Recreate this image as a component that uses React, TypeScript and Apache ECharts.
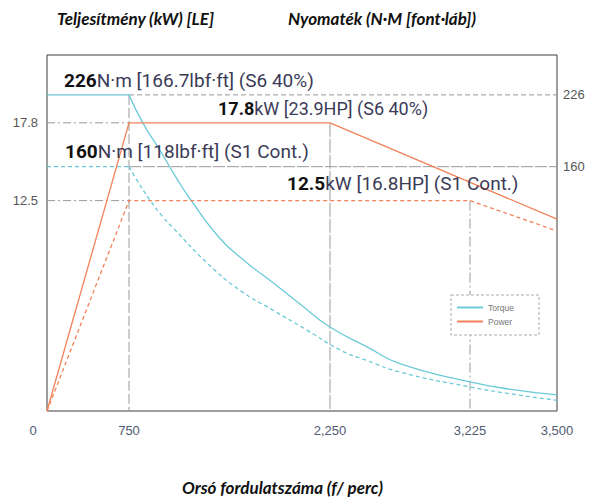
import React, { useEffect, useRef } from "react";
import * as echarts from "echarts";

// ---- axis scale definitions (schematic, piecewise) ----
const RPM_STOPS = [0, 750, 2250, 3225, 3500];
const X_TICK_LABELS = ["0", "750", "2,250", "3,225", "3,500"];
const X_STOP_POS = [0, 0.1608, 0.5549, 0.8294, 1];

const KW_STOPS = [0, 12.5, 17.8];
const KW_STOP_POS = [0, 0.591, 0.8095];
const KW_TICKS = [12.5, 17.8];

const NM_STOPS = [0, 160, 226];
const NM_STOP_POS = [0, 0.6863, 0.888];
const NM_TICKS = [160, 226];

// ---- series data ----
const POWER_S6_RPM = [0, 750, 2250, 3500];
const POWER_S6_KW = [0, 17.8, 17.8, 11.4];
const POWER_S1_RPM = [0, 750, 3225, 3500];
const POWER_S1_KW = [0, 12.5, 12.5, 10.7];

const TORQUE_S6_RPM = [0, 750, 854, 981, 1108, 1205, 1429, 1631, 1825, 2026, 2250, 2508, 2737, 3225, 3361, 3500];
const TORQUE_S6_NM = [226, 226, 200, 175, 152, 139, 113, 97, 84, 70, 55, 42, 31, 19, 14, 10.5];
const TORQUE_S1_RPM = [0, 750, 810, 907, 1004, 1078, 1332, 1578, 1825, 2078, 2320, 2508, 2737, 3225, 3361, 3500];
const TORQUE_S1_NM = [160, 160, 151, 138, 127, 120, 97, 79, 66, 53, 40, 33, 25.5, 15.7, 11, 7];

const CYAN = "#6ccad8";
const ORANGE = "#f2825a";
const GRID_GRAY = "#9a9a9a";
const TEXT_DARK = "#3b3b58";

function interp(v: number, xs: number[], ys: number[]): number {
  let i = 0;
  while (i < xs.length - 2 && v > xs[i + 1]) i++;
  const t = (v - xs[i]) / (xs[i + 1] - xs[i]);
  return ys[i] + t * (ys[i + 1] - ys[i]);
}
const xp = (rpm: number) => interp(rpm, RPM_STOPS, X_STOP_POS);
const kwp = (kw: number) => interp(kw, KW_STOPS, KW_STOP_POS);
const nmp = (nm: number) => interp(nm, NM_STOPS, NM_STOP_POS);

function nearestIdx(v: number, arr: number[]) {
  let best = 0;
  for (let i = 1; i < arr.length; i++) if (Math.abs(arr[i] - v) < Math.abs(arr[best] - v)) best = i;
  return best;
}

function refLine(points: number[][], yAxisIndex: number, dash: number[]) {
  return {
    type: "line",
    yAxisIndex,
    data: points,
    symbol: "none",
    silent: true,
    z: 1,
    lineStyle: { color: GRID_GRAY, width: 1, type: dash },
  };
}

function curve(name: string, color: string, yAxisIndex: number, pts: number[][], dashed: boolean, smooth: number) {
  return {
    name,
    type: "line",
    yAxisIndex,
    color,
    symbol: "none",
    z: 3,
    smooth,
    lineStyle: { color, width: 1.3, type: dashed ? [4, 3] : "solid" },
    data: pts,
  };
}

export default function App() {
  const ref = useRef<HTMLDivElement>(null);
  useEffect(() => {
    document.body.style.margin = "0";
    if (!ref.current) return;
    const chart = echarts.init(ref.current, undefined, { renderer: "svg" });

    const annFont = "Roboto";
    const ann = (x: number, y: number, bold: string, rest: string, size = 19) => ({
      type: "text",
      left: x,
      top: y,
      z: 5,
      style: {
        text: `{b|${bold}}{n|${rest}}`,
        rich: {
          b: { fontFamily: annFont, fontSize: size, fontWeight: "bold", fill: "#111", color: "#111" },
          n: { fontFamily: annFont, fontSize: size, fill: TEXT_DARK, color: TEXT_DARK },
        },
      },
    });

    const titleStyle = (text: string) => ({
      text,
      fontFamily: "Lato",
      fontSize: 17,
      fontWeight: "bold",
      fontStyle: "italic",
      fill: "#111",
    });

    const tS6 = TORQUE_S6_RPM.map((r, i) => [xp(r), nmp(TORQUE_S6_NM[i])]);
    const tS1 = TORQUE_S1_RPM.map((r, i) => [xp(r), nmp(TORQUE_S1_NM[i])]);

    const option: any = {
      animation: false,
      grid: { left: 47, top: 55, right: 33, bottom: 91, show: true, borderColor: "#3c3c3c", borderWidth: 1 },
      xAxis: {
        type: "value",
        min: 0,
        max: 1,
        axisLine: { show: false },
        axisTick: { show: false },
        splitLine: { show: false },
        axisLabel: {
          customValues: X_STOP_POS,
          margin: 13,
          color: "#4f5a73",
          fontSize: 13,
          fontFamily: "Liberation Sans",
          formatter: (v: number) => {
            const i = nearestIdx(v, X_STOP_POS);
            return i === 0 ? "{z|0}" : X_TICK_LABELS[i];
          },
          rich: {
            z: { padding: [0, 28, 0, 0], color: "#4f5a73", fontSize: 13, fontFamily: "Liberation Sans" },
          },
        },
      },
      yAxis: [
        {
          type: "value",
          min: 0,
          max: 1,
          position: "left",
          axisLine: { show: false },
          axisTick: { show: false },
          splitLine: { show: false },
          axisLabel: {
            customValues: KW_TICKS.map(kwp),
            margin: 9,
            color: "#555",
            fontSize: 13,
            fontFamily: "Liberation Sans",
            padding: [0, 0, 7, 0],
            formatter: (v: number) => String(KW_TICKS[nearestIdx(v, KW_TICKS.map(kwp))]),
          },
        },
        {
          type: "value",
          min: 0,
          max: 1,
          position: "right",
          axisLine: { show: false },
          axisTick: { show: false },
          splitLine: { show: false },
          axisLabel: {
            customValues: NM_TICKS.map(nmp),
            margin: 6,
            color: "#555",
            fontSize: 13,
            fontFamily: "Liberation Sans",
            padding: [0, 0, 7, 0],
            formatter: (v: number) => String(NM_TICKS[nearestIdx(v, NM_TICKS.map(nmp))]),
          },
        },
      ],
      legend: {
        data: ["Torque", "Power"],
        orient: "vertical",
        left: 457,
        top: 303,
        icon: "rect",
        itemWidth: 26,
        itemHeight: 2,
        itemGap: 5,
        padding: 0,
        z: 6,
        textStyle: { fontSize: 8.5, color: "#777", fontFamily: "Liberation Sans" },
      },
      series: [
        // reference / drop lines
        refLine([[xp(0), kwp(17.8)], [xp(750), kwp(17.8)]], 0, [8, 3, 2, 3]),
        refLine([[xp(0), kwp(12.5)], [xp(750), kwp(12.5)]], 0, [8, 3, 2, 3]),
        refLine([[xp(750), nmp(226)], [xp(3500), nmp(226)]], 1, [5, 3]),
        refLine([[xp(750), nmp(160)], [xp(3500), nmp(160)]], 1, [12, 2]),
        refLine([[xp(750), nmp(226)], [xp(750), nmp(0)]], 1, [10, 3]),
        refLine([[xp(2250), kwp(17.8)], [xp(2250), kwp(0)]], 0, [14, 2]),
        refLine([[xp(3225), kwp(12.5)], [xp(3225), kwp(0)]], 0, [10, 3, 2, 3]),
        // torque: flat part + smooth falling part
        curve("Torque", CYAN, 1, tS6.slice(0, 2), false, 0),
        curve("Torque", CYAN, 1, tS6.slice(1), false, 0.5),
        curve("Torque S1", CYAN, 1, tS1.slice(0, 2), true, 0),
        curve("Torque S1", CYAN, 1, tS1.slice(1), true, 0.5),
        curve("Power", ORANGE, 0, POWER_S6_RPM.map((r, i) => [xp(r), kwp(POWER_S6_KW[i])]), false, 0),
        curve("Power S1", ORANGE, 0, POWER_S1_RPM.map((r, i) => [xp(r), kwp(POWER_S1_KW[i])]), true, 0),
      ],
      graphic: [
        { type: "text", left: 57, top: 10, style: titleStyle("Teljesítmény (kW) [LE]") },
        { type: "text", left: 288, top: 10, style: titleStyle("Nyomaték (N·M [font·láb])") },
        { type: "text", left: 182, top: 479, style: titleStyle("Orsó fordulatszáma (f/ perc)") },
        ann(64, 71, "226", "N·m [166.7lbf·ft] (S6 40%)"),
        ann(218, 99, "17.8", "kW [23.9HP] (S6 40%)", 18),
        ann(65, 142, "160", "N·m [118lbf·ft] (S1 Cont.)"),
        ann(287, 174, "12.5", "kW [16.8HP] (S1 Cont.)"),
        {
          type: "rect",
          z: 4,
          shape: { x: 451, y: 295, width: 88, height: 40 },
          style: { fill: "#fff", stroke: "#aaa", lineWidth: 1, lineDash: [3, 2] },
        },
      ],
    };
    chart.setOption(option);
    return () => chart.dispose();
  }, []);
  return <div ref={ref} style={{ width: 590, height: 502 }} />;
}
